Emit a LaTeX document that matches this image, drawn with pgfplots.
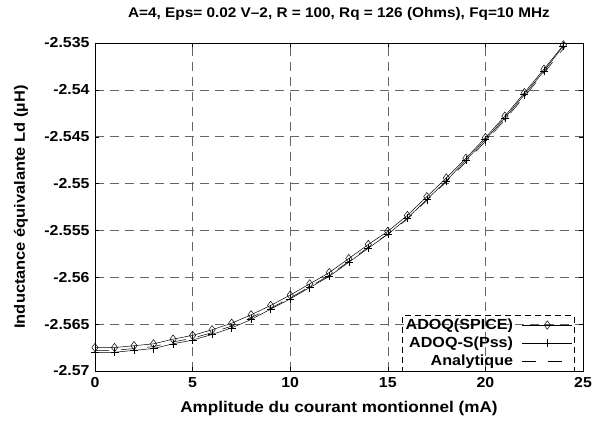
\documentclass[border=0pt]{standalone}
\usepackage{fontspec}
\setmainfont{Liberation Sans}[FakeStretch=1.1]
\usepackage{pgfplots}
\pgfplotsset{compat=1.18}
\usepackage{pgfplotstable}
\pgfplotstableread{
x diam pss ana
0 -2.5675 -2.5680 -2.5678
1 -2.5675 -2.5680 -2.5678
2 -2.5673 -2.5678 -2.5676
3 -2.5671 -2.5676 -2.5674
4 -2.5666 -2.5671 -2.5669
5 -2.5662 -2.5667 -2.5665
6 -2.5656 -2.5661 -2.5659
7 -2.5649 -2.5654 -2.5652
8 -2.5640 -2.5645 -2.5643
9 -2.5630 -2.5634 -2.5633
10 -2.5619 -2.5623 -2.5622
11 -2.5607 -2.5611 -2.5610
12 -2.5595 -2.5599 -2.5598
13 -2.5580 -2.5584 -2.5583
14 -2.5565 -2.5569 -2.5568
15 -2.5551 -2.5554 -2.5554
16 -2.5534 -2.5537 -2.5538
17 -2.5514 -2.5517 -2.5518
18 -2.5494 -2.5497 -2.5498
19 -2.5473 -2.5475 -2.5477
20 -2.5451 -2.5453 -2.5455
21 -2.5428 -2.5430 -2.5432
22 -2.5403 -2.5405 -2.5407
23 -2.5378 -2.5380 -2.5382
24 -2.5352 -2.5353 -2.5356
}\data
\begin{document}
\begin{tikzpicture}
\begin{axis}[
  scale only axis,
  width=488bp, height=328bp,
  xmin=0, xmax=25, ymin=-2.57, ymax=-2.535,
  xtick={0,5,10,15,20,25},
  ytick={-2.57,-2.565,-2.56,-2.555,-2.55,-2.545,-2.54,-2.535},
  yticklabels={-2.57,-2.565,-2.56,-2.555,-2.55,-2.545,-2.54,-2.535},
  xticklabels={0,5,10,15,20,25},
  tick align=inside,
  major tick length=4bp,
  tick style={black, thin},
  grid=major,
  major grid style={black!60, dash pattern=on 9bp off 6bp, line width=0.6pt},
  axis line style={black, line width=0.7pt},
  ticklabel style={font=\fontsize{14.5}{16}\selectfont\bfseries},
  xticklabel style={yshift=-3bp},
  yticklabel style={xshift=-2bp},
  title={\fontsize{14}{15}\selectfont\bfseries A=4, Eps= 0.02 V–2, R = 100, Rq = 126 (Ohms), Fq=10 MHz},
  title style={at={(axis description cs:0.5,1.07)}, anchor=center},
  xlabel={\fontsize{15.6}{17}\selectfont\bfseries Amplitude du courant montionnel (mA)},
  xlabel style={at={(axis description cs:0.5,-0.113)}, anchor=center},
  ylabel={\fontsize{15}{17}\selectfont\bfseries Inductance équivalante Ld (µH)},
  ylabel style={at={(axis description cs:-0.152,0.5)}, anchor=center},
  legend style={at={(0.982,0)}, anchor=south east, draw=black, dash pattern=on 6bp off 4bp,
    font=\fontsize{14.7}{15}\selectfont\bfseries, fill=none, inner sep=1.5bp, row sep=2bp},
  legend cell align=right,
  legend plot pos=right,
  legend image code/.code={\path (0cm,0cm); \draw[mark repeat=2, mark phase=2] plot coordinates {(0.25cm,0cm) (1.13cm,0cm) (2.01cm,0cm)};},
]
\addplot[black, solid, line width=0.5pt, mark=diamond, mark size=4.2bp, mark options={solid, fill=white}] table[x=x, y=diam] {\data};
\addlegendentry{ADOQ(SPICE)}
\addplot[black, solid, line width=0.5pt, mark=+, mark size=4bp, mark options={solid}] table[x=x, y=pss] {\data};
\addlegendentry{ADOQ-S(Pss)}
\addplot[black, line width=0.5pt, dash pattern=on 14bp off 12bp, no marks] table[x=x, y=ana] {\data};
\addlegendentry{Analytique}
\end{axis}
\pgfresetboundingbox
\path (-95bp,-56bp) rectangle (511bp,371bp);
\end{tikzpicture}
\end{document}
